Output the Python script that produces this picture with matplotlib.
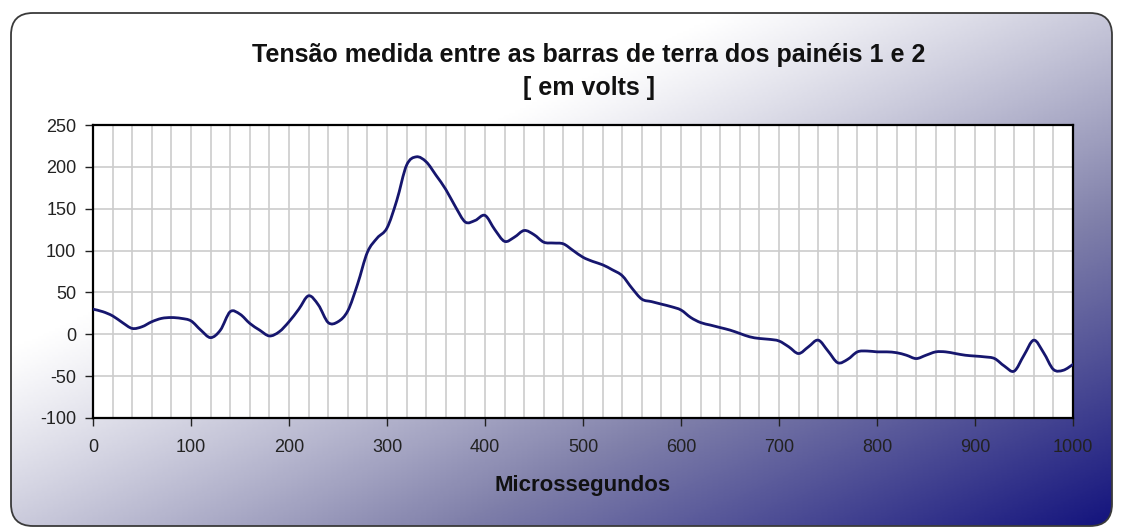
import numpy as np
import matplotlib
matplotlib.use('Agg')
import matplotlib.pyplot as plt
from matplotlib.patches import FancyBboxPatch, PathPatch
from matplotlib.path import Path
from matplotlib.colors import LinearSegmentedColormap

plt.rcParams['font.family'] = ['Liberation Sans', 'DejaVu Sans']
plt.rcParams['axes.unicode_minus'] = False

# Data (microseconds, volts)
tempo = list(range(0, 1001, 10))
tensao = [30, 27, 22, 14, 7, 9, 15, 19, 20, 19,
          16, 5, -4, 5, 27, 24, 13, 5, -2, 3,
          15, 30, 46, 35, 14, 15, 28, 60, 98, 115,
          127, 160, 202, 212, 206, 190, 173, 152, 134, 136,
          142, 125, 111, 116, 124, 119, 110, 109, 108, 100,
          92, 87, 83, 77, 70, 55, 42, 39, 36, 33,
          29, 20, 14, 11, 8, 5, 1, -3, -5, -6,
          -8, -15, -23, -15, -7, -20, -34, -30, -21, -20,
          -21, -21, -22, -25, -29, -25, -21, -21, -23, -25,
          -26, -27, -29, -38, -44, -25, -7, -22, -42, -43,
          -36]

titulo = 'Tensão medida entre as barras de terra dos painéis 1 e 2'
subtitulo = '[ em volts ]'
rotulo_x = 'Microssegundos'

W, H = 1122, 531
fig = plt.figure(figsize=(W / 100, H / 100), dpi=100)

# background: white outside, rounded frame with diagonal gradient inside
bg = fig.add_axes([0, 0, 1, 1], zorder=0)
bg.set_xlim(0, W)
bg.set_ylim(H, 0)
bg.axis('off')
xx, yy = np.meshgrid(np.linspace(0, 1, 400), np.linspace(0, 1, 200))
t = (xx + yy) / 2
d = np.clip((t - 0.33) / 0.67, 0, 1) ** 1.15
cmap = LinearSegmentedColormap.from_list(
    'grad', [(0, '#ffffff'), (0.5, '#8080aa'), (1, '#10107c')])
frame = FancyBboxPatch((11, 13), 1101, 513, boxstyle='round,pad=0,rounding_size=22',
                       facecolor='none', edgecolor='#3a3a3a', linewidth=1.3, zorder=2)
bg.add_patch(frame)
im = bg.imshow(d, cmap=cmap, vmin=0, vmax=1, extent=[0, W, H, 0], aspect='auto', zorder=1)
im.set_clip_path(frame)

# titles
fig.text(589 / W, 1 - 55 / H, titulo, ha='center', va='center',
         fontsize=18, fontweight='bold', color='#111111')
fig.text(589 / W, 1 - 88 / H, subtitulo, ha='center', va='center',
         fontsize=18, fontweight='bold', color='#111111')

ax = fig.add_axes([93 / W, 1 - 418 / H, (1073 - 93) / W, (418 - 125) / H], zorder=3)
ax.set_facecolor('white')

# smoothed line (like the spreadsheet's "smoothed line" style): Catmull-Rom as Bezier
px = np.array(tempo, dtype=float)
py = np.array(tensao, dtype=float)
verts = [(px[0], py[0])]
codes = [Path.MOVETO]
n = len(px)
for i in range(n - 1):
    p0 = np.array([px[max(i - 1, 0)], py[max(i - 1, 0)]])
    p1 = np.array([px[i], py[i]])
    p2 = np.array([px[i + 1], py[i + 1]])
    p3 = np.array([px[min(i + 2, n - 1)], py[min(i + 2, n - 1)]])
    c1 = p1 + (p2 - p0) / 6
    c2 = p2 - (p3 - p1) / 6
    verts += [tuple(c1), tuple(c2), tuple(p2)]
    codes += [Path.CURVE4] * 3
ax.add_patch(PathPatch(Path(verts, codes), facecolor='none', edgecolor='#16166e',
                       linewidth=2.0, zorder=3, capstyle='round', joinstyle='round'))

ax.set_xlim(0, 1000)
ax.set_ylim(-100, 250)
ax.set_xticks(range(0, 1001, 100))
ax.set_xticks(range(0, 1001, 20), minor=True)
ax.set_yticks(range(-100, 251, 50))
ax.grid(True, which='both', axis='x', color='#cccccc', linewidth=1.2)
ax.grid(True, which='major', axis='y', color='#cccccc', linewidth=1.2)
ax.set_axisbelow(True)
ax.tick_params(axis='both', which='major', direction='out', length=6, width=1,
               labelsize=13, labelcolor='#222222', color='#222222')
ax.tick_params(axis='x', which='minor', length=0)
ax.tick_params(axis='x', pad=9)
ax.tick_params(axis='y', pad=6)
for s in ax.spines.values():
    s.set_color('black')
    s.set_linewidth(1.6)

ax.set_xlabel(rotulo_x, fontsize=16, fontweight='bold', color='#111111', labelpad=14)

fig.savefig('out.png', dpi=100)
